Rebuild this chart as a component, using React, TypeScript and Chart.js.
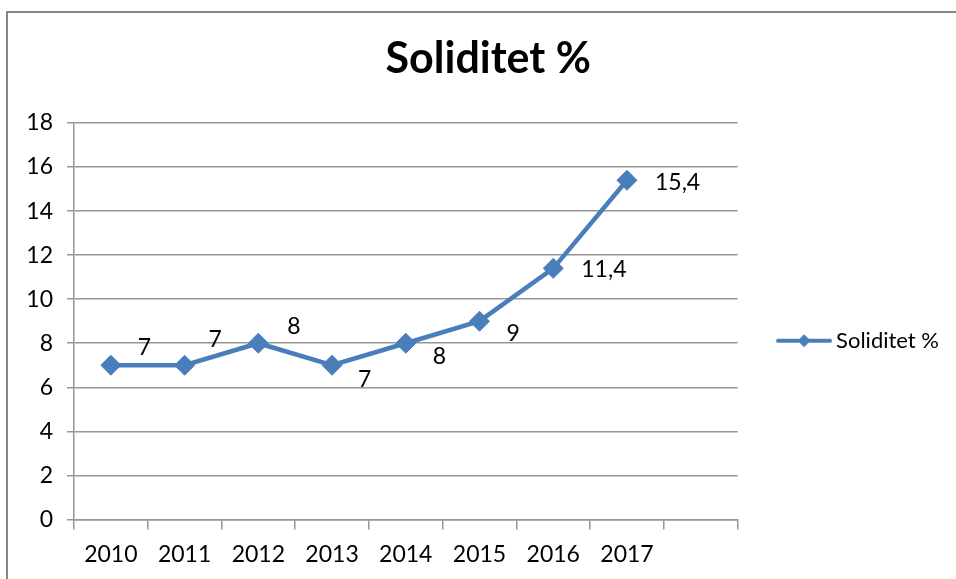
import React, { useEffect, useRef } from 'react';
import { Chart, registerables } from 'chart.js';

Chart.register(...registerables);

// ---- data ----
const categories = ['2010', '2011', '2012', '2013', '2014', '2015', '2016', '2017', ''];
const values = [7, 7, 8, 7, 8, 9, 11.4, 15.4];
const seriesName = 'Soliditet %';
const chartTitle = 'Soliditet %';
const yMin = 0;
const yMax = 18;
const yStep = 2;

// ---- data-label placement (offsets from each point, px) ----
const labelDx = [27, 24, 29, 26, 27, 27, 28, 28];
const labelDy = [-18, -26, -17, 14, 13, 12, 1, 2];

// ---- style ----
const BLUE = '#4A7EBB';
const GRID = '#969696';
const FONT = 'Lato';
const TICK_SIZE = 23;
const LEGEND_SIZE = 22;
const CANVAS_W = 949;
const CANVAS_H = 579;

const fmt = (v: number) => String(v).replace('.', ',');

function makeLegendSwatch(): HTMLCanvasElement {
  const c = document.createElement('canvas');
  c.width = 56;
  c.height = 20;
  const g = c.getContext('2d')!;
  g.strokeStyle = BLUE;
  g.lineWidth = 4;
  g.lineCap = 'round';
  g.beginPath();
  g.moveTo(2, 10);
  g.lineTo(54, 10);
  g.stroke();
  g.fillStyle = BLUE;
  g.beginPath();
  g.moveTo(28 - 6.5, 10);
  g.lineTo(28, 10 - 6.5);
  g.lineTo(28 + 6.5, 10);
  g.lineTo(28, 10 + 6.5);
  g.closePath();
  g.fill();
  return c;
}

const pointLabelsPlugin = {
  id: 'pointLabels',
  afterDatasetsDraw(chart: any) {
    const meta = chart.getDatasetMeta(0);
    const ctx = chart.ctx as CanvasRenderingContext2D;
    ctx.save();
    ctx.font = `${TICK_SIZE}px ${FONT}`;
    ctx.fillStyle = '#000';
    ctx.textAlign = 'left';
    ctx.textBaseline = 'middle';
    meta.data.forEach((pt: any, i: number) => {
      const v = values[i];
      if (v === undefined || v === null) return;
      ctx.fillText(fmt(v), pt.x + labelDx[i], pt.y + labelDy[i]);
    });
    ctx.restore();
  },
};

export default function App() {
  const ref = useRef<HTMLCanvasElement>(null);

  useEffect(() => {
    if (!ref.current) return;
    const swatch = makeLegendSwatch();
    const chart = new Chart(ref.current, {
      type: 'line',
      data: {
        labels: categories,
        datasets: [
          {
            label: seriesName,
            data: values,
            borderColor: BLUE,
            backgroundColor: BLUE,
            borderWidth: 4.5,
            pointStyle: 'rectRot',
            pointRadius: 10,
            pointBorderWidth: 1,
            pointBackgroundColor: BLUE,
            pointBorderColor: BLUE,
            tension: 0,
            fill: false,
          },
        ],
      },
      options: {
        responsive: false,
        animation: false,
        layout: { padding: { left: 27.5, right: 0, top: 0, bottom: 0 } },
        plugins: {
          tooltip: { enabled: false },
          title: {
            display: true,
            text: chartTitle,
            color: '#000',
            font: { family: FONT, size: 43, weight: 'bold' },
            padding: { top: 33.1, bottom: 38.3 },
          },
          legend: {
            display: true,
            position: 'right',
            fullSize: false,
            title: {
              display: true,
              text: ' ',
              font: { family: FONT, size: 10 },
              padding: { top: 27, bottom: 0 },
            },
            labels: {
              usePointStyle: true,
              pointStyle: swatch as any,
              pointStyleWidth: 42,
              padding: 45.5,
              color: '#000',
              font: { family: FONT, size: LEGEND_SIZE },
            },
          },
        },
        scales: {
          x: {
            type: 'category',
            offset: true,
            grid: {
              offset: true,
              drawOnChartArea: false,
              drawTicks: true,
              tickLength: 10,
              color: GRID,
              lineWidth: 1.5,
            },
            border: { display: true, color: GRID, width: 1.5 },
            ticks: {
              color: '#000',
              font: { family: FONT, size: TICK_SIZE },
              padding: 11,
              maxRotation: 0,
              autoSkip: false,
            },
          },
          y: {
            min: yMin,
            max: yMax,
            grid: { color: GRID, lineWidth: 1.5, tickLength: 7 },
            border: { display: true, color: GRID, width: 1.5 },
            ticks: {
              stepSize: yStep,
              color: '#000',
              font: { family: FONT, size: TICK_SIZE },
              padding: 14,
            },
            afterFit: (s: any) => {
              s.width = 46.5;
            },
          },
        },
      },
      plugins: [pointLabelsPlugin],
    });
    return () => chart.destroy();
  }, []);

  return (
    <div
      style={{
        position: 'fixed',
        left: 0,
        top: 0,
        width: 956,
        height: 579,
        overflow: 'hidden',
        background: '#fff',
      }}
    >
      <div
        style={{
          position: 'absolute',
          left: 6,
          top: 11,
          width: 1100,
          height: 1100,
          border: '2px solid #878787',
        }}
      />
      <canvas
        ref={ref}
        width={CANVAS_W}
        height={CANVAS_H}
        style={{ position: 'absolute', left: 0, top: 0, width: CANVAS_W, height: CANVAS_H }}
      />
    </div>
  );
}
